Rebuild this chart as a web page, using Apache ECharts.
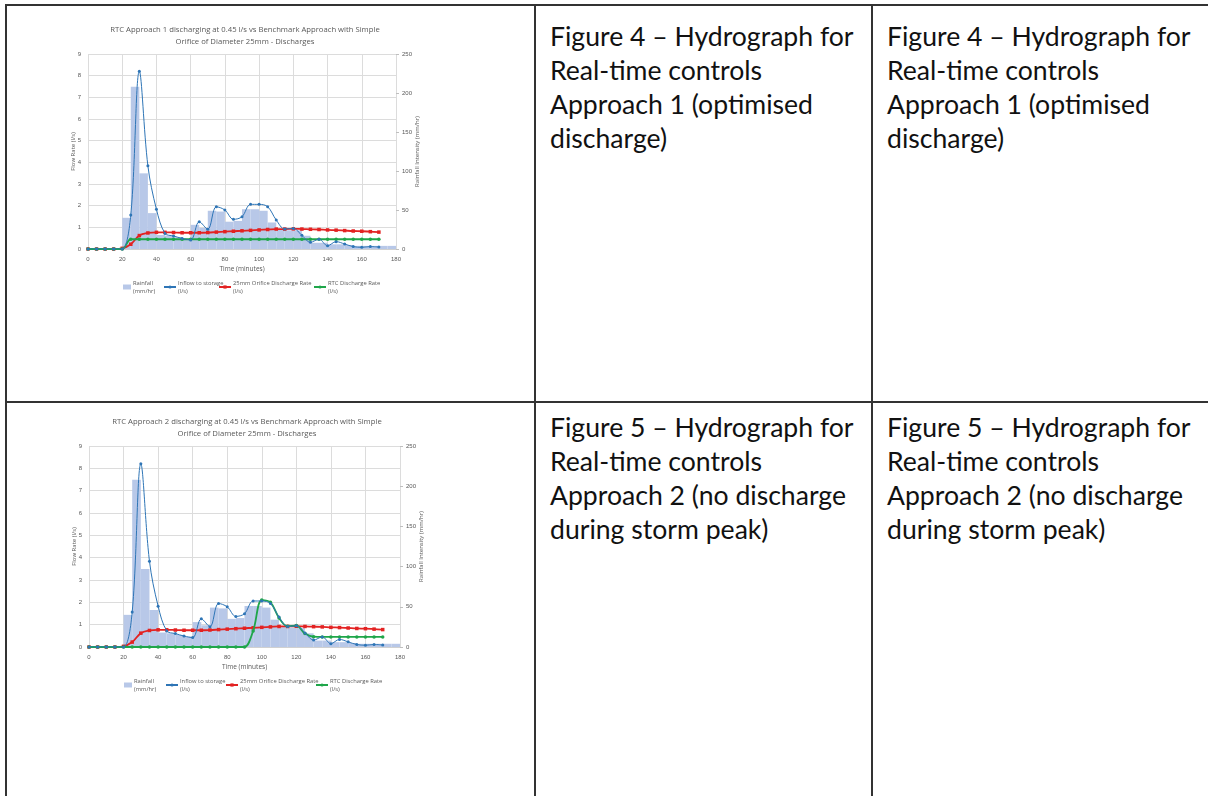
<!DOCTYPE html>
<html>
<head>
<meta charset="utf-8">
<script src="https://cdn.jsdelivr.net/npm/echarts@6/dist/echarts.min.js"></script>
<style>
html,body{margin:0;padding:0;background:#fff;}
body{width:1208px;height:796px;position:relative;overflow:hidden;}
.ln{position:absolute;background:#333;}
.cap{position:absolute;font-family:Lato,"Open Sans",sans-serif;font-size:26.6px;line-height:34px;color:#111;white-space:nowrap;}
.chart{position:absolute;}
</style>
</head>
<body>
<div class="ln" style="left:5px;top:4px;width:1203px;height:2px;"></div>
<div class="ln" style="left:5px;top:4px;width:2px;height:792px;"></div>
<div class="ln" style="left:534px;top:4px;width:2px;height:792px;"></div>
<div class="ln" style="left:871px;top:4px;width:2px;height:792px;"></div>
<div class="ln" style="left:5px;top:401px;width:1203px;height:2px;"></div>

<div class="cap" style="left:550px;top:19px;">Figure 4 – Hydrograph for<br>Real-time controls<br>Approach 1 (optimised<br>discharge)</div>
<div class="cap" style="left:887px;top:19px;">Figure 4 – Hydrograph for<br>Real-time controls<br>Approach 1 (optimised<br>discharge)</div>
<div class="cap" style="left:550px;top:410px;">Figure 5 – Hydrograph for<br>Real-time controls<br>Approach 2 (no discharge<br>during storm peak)</div>
<div class="cap" style="left:887px;top:410px;">Figure 5 – Hydrograph for<br>Real-time controls<br>Approach 2 (no discharge<br>during storm peak)</div>

<div id="c1" class="chart" style="left:7px;top:6px;width:527px;height:395px;"></div>
<div id="c2" class="chart" style="left:7px;top:403px;width:527px;height:393px;"></div>

<script>
// ---- data ----
const times = [0,5,10,15,20,25,30,35,40,45,50,55,60,65,70,75,80,85,90,95,100,105,110,115,120,125,130,135,140,145,150,155,160,165,170];
const rainStart = [20,25,30,35,40,45,50,55,60,65,70,75,80,85,90,95,100,105,110,115,120,125,130,135,140,145,150,155,160,165,170,175];
const rainfall = [40,208,97,46,18,17,15,13,31,27,49,48,35,36,51,51,49,34,26,24,24,17,8,8,6,6,5,4,4,4,4,4]; // mm/hr
const inflow = [0,0,0,0,0,1.57,8.2,3.84,1.83,0.72,0.6,0.49,0.42,1.26,0.91,1.95,1.8,1.37,1.49,2.06,2.06,1.95,1.34,0.92,0.95,0.63,0.31,0.45,0.15,0.34,0.23,0.11,0.08,0.11,0.09];
const orifice = [0,0,0,0,0.03,0.22,0.62,0.74,0.77,0.77,0.76,0.75,0.75,0.75,0.76,0.78,0.8,0.82,0.84,0.86,0.88,0.9,0.92,0.92,0.93,0.92,0.91,0.9,0.88,0.87,0.85,0.83,0.82,0.8,0.78];
const rtc1 = [0,0,0,0,0,0.45,0.45,0.45,0.45,0.45,0.45,0.45,0.45,0.45,0.45,0.45,0.45,0.45,0.45,0.45,0.45,0.45,0.45,0.45,0.45,0.45,0.45,0.45,0.45,0.45,0.45,0.45,0.45,0.45,0.45];
const rtc2 = [0,0,0,0,0,0,0,0,0,0,0,0,0,0,0,0,0,0,0,0.72,2.1,2.0,1.3,0.93,0.96,0.6,0.46,0.45,0.45,0.45,0.45,0.45,0.45,0.45,0.45];
const xTicks = [0,20,40,60,80,100,120,140,160,180];
const leftTicks = [0,1,2,3,4,5,6,7,8,9];
const rightTicks = [0,50,100,150,200,250];
const title1 = 'RTC Approach 1 discharging at 0.45 l/s vs Benchmark Approach with Simple\nOrifice of Diameter 25mm - Discharges';
const title2 = 'RTC Approach 2 discharging at 0.45 l/s vs Benchmark Approach with Simple\nOrifice of Diameter 25mm - Discharges';
const names = ['Rainfall\n(mm/hr)','Inflow to storage\n(l/s)','25mm Orifice Discharge Rate\n(l/s)','RTC Discharge Rate\n(l/s)'];

const txt = '#595959';
function pairs(xs, ys){ return xs.map((x,i)=>[x, ys[i]]); }

function build(title, rtc, g, lg){
  const rain = rainStart.map((s,i)=>[s, s+5, rainfall[i]]);
  const lineBase = {type:'line', smooth:0.35, yAxisIndex:0, xAxisIndex:0};
  return {
    animation:false,
    title:{text:title, left:g.cx, top:g.ty, textAlign:'center', padding:0,
      textStyle:{fontFamily:'Open Sans, sans-serif', fontWeight:'normal', fontSize:7.7, color:txt, lineHeight:12}},
    grid:{left:g.left, top:g.top, width:g.width, height:g.height, containLabel:false},
    xAxis:{type:'value', min:0, max:180, interval:20,
      name:'Time (minutes)', nameLocation:'middle', nameGap:17, nameMoveOverlap:false,
      nameTextStyle:{fontSize:6.5, color:txt, fontFamily:'Open Sans, sans-serif'},
      axisLine:{show:true, lineStyle:{color:'#d0d0d0'}}, axisTick:{show:false},
      axisLabel:{fontSize:6, color:txt, margin:7, formatter:v=>xTicks.includes(v)?String(v):''},
      splitLine:{show:true, lineStyle:{color:'#dcdcdc', width:1}}},
    yAxis:[
      {type:'value', min:0, max:9, interval:1, position:'left',
        name:'Flow Rate (l/s)', nameLocation:'middle', nameGap:g.lGap, nameRotate:90, nameMoveOverlap:false,
        nameTextStyle:{fontSize:6, color:txt, fontFamily:'Open Sans, sans-serif'},
        axisLine:{show:false}, axisTick:{show:false},
        axisLabel:{fontSize:6, color:txt, margin:7, formatter:v=>leftTicks.includes(v)?String(v):''},
        splitLine:{show:true, lineStyle:{color:'#dcdcdc', width:1}}},
      {type:'value', min:0, max:250, interval:50, position:'right',
        name:'Rainfall Intensity (mm/hr)', nameLocation:'middle', nameGap:g.rGap, nameRotate:90, nameMoveOverlap:false,
        nameTextStyle:{fontSize:6, color:txt, fontFamily:'Open Sans, sans-serif'},
        axisLine:{show:false}, axisTick:{show:true, length:3, lineStyle:{color:'#bfbfbf'}},
        axisLabel:{fontSize:6, color:txt, margin:6, formatter:v=>rightTicks.includes(v)?String(v):''},
        splitLine:{show:false}}
    ],
    legend:[0,1,2,3].map(i=>({
      data:[i===0?{name:names[0], icon:'rect'}:{name:names[i]}],
      left:lg[i], top:g.legTop, orient:'horizontal', padding:0,
      itemWidth:i===0?8:12, itemHeight:i===0?5:4, itemGap:2, selectedMode:false,
      textStyle:{fontSize:5.8, color:txt, lineHeight:8, fontFamily:'Open Sans, sans-serif', padding:[0,0,0,-3]}
    })),
    series:[
      {name:names[0], type:'custom', xAxisIndex:0, yAxisIndex:1, coordinateSystem:'cartesian2d',
        itemStyle:{color:'#b8c8e8'}, encode:{x:[0,1], y:2}, z:1,
        renderItem:function(params, api){
          const p0 = api.coord([api.value(0), api.value(2)]);
          const p1 = api.coord([api.value(1), 0]);
          const r = echarts.graphic.clipRectByRect({x:p0[0], y:p0[1], width:p1[0]-p0[0], height:p1[1]-p0[1]},
            {x:params.coordSys.x, y:params.coordSys.y, width:params.coordSys.width, height:params.coordSys.height});
          return r && {type:'rect', shape:r, style:{fill:'#b8c8e8'}};
        },
        data:rain},
      Object.assign({}, lineBase, {name:names[1], data:pairs(times, inflow), z:5,
        lineStyle:{color:'#2e75b6', width:1}, itemStyle:{color:'#2e75b6'}, symbol:'circle', symbolSize:3}),
      Object.assign({}, lineBase, {name:names[2], data:pairs(times, orifice), z:3,
        lineStyle:{color:'#e32222', width:1.8}, itemStyle:{color:'#e32222'}, symbol:'rect', symbolSize:3.5}),
      Object.assign({}, lineBase, {name:names[3], data:pairs(times, rtc), z:4,
        lineStyle:{color:'#1fa64a', width:1.8}, itemStyle:{color:'#1fa64a'}, symbol:'circle', symbolSize:3.5})
    ]
  };
}

const c1 = echarts.init(document.getElementById('c1'), null, {renderer:'canvas'});
// chart1 page coords: plot x 88..396, y 54..249; div offset (7,6)
c1.setOption(build(title1, rtc1,
  {left:81, top:48, width:308, height:195, cx:238, ty:18, legTop:273, lGap:12, rGap:18},
  [116, 156, 211, 306]));
const c2 = echarts.init(document.getElementById('c2'), null, {renderer:'canvas'});
// chart2 page coords: plot x 89..400, y 446..647; div offset (7,403)
c2.setOption(build(title2, rtc2,
  {left:82, top:43, width:311, height:201, cx:240, ty:13, legTop:274, lGap:12, rGap:18},
  [117, 158, 218, 308]));
</script>
</body>
</html>
